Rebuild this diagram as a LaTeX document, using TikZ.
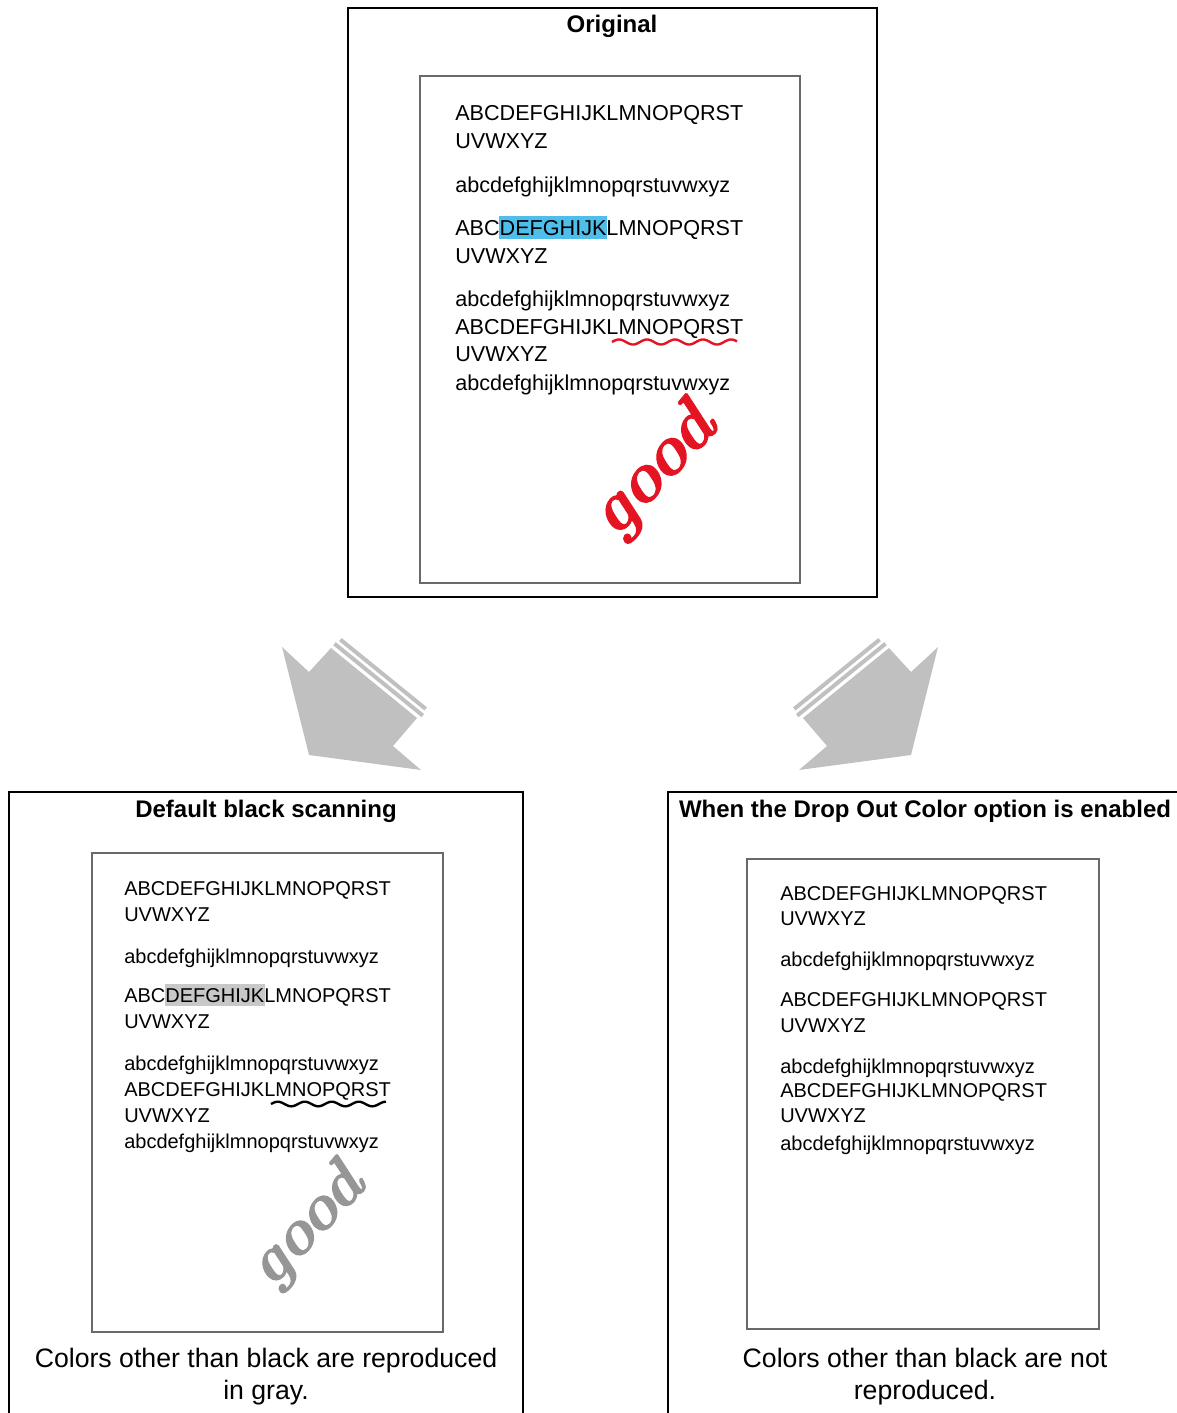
\documentclass[tikz,border=0pt]{standalone}
\usepackage{fontspec}
\setmainfont{Liberation Sans}
\newfontfamily\goodfont{lmroman10-bolditalic.otf}[FakeBold=1.6]
\definecolor{hlblue}{RGB}{80,190,235}
\definecolor{hlgray}{RGB}{200,200,200}
\definecolor{arrowgray}{RGB}{192,192,192}
\definecolor{goodred}{RGB}{228,20,35}
\definecolor{goodgray}{RGB}{150,150,150}
\definecolor{pagegray}{RGB}{105,105,105}
\begin{document}
\begin{tikzpicture}[x=0.75pt,y=-0.75pt,
  frame/.style={line width=1.5pt, draw=black},
  page/.style={line width=1.2pt, draw=pagegray},
  title/.style={anchor=base, inner sep=0pt, font=\fontsize{18}{21}\selectfont\bfseries},
  big/.style={anchor=base west, inner sep=0pt, font=\fontsize{16.2}{19}\selectfont},
  small/.style={anchor=base west, inner sep=0pt, font=\fontsize{15}{18}\selectfont},
  caption/.style={anchor=base, inner sep=0pt, font=\fontsize{20}{24}\selectfont},
  arrowbody/.style={fill=arrowgray, draw=none},
  stripe/.style={draw=arrowgray, line width=3pt},
  wave/.style={line width=1.8pt},
  goodword/.style={inner sep=0pt, font=\goodfont\fontsize{#1}{#1}\selectfont},
]
\useasboundingbox (0,0) rectangle (1177,1413);

% ---------- Original ----------
\draw[frame] (348,8) rectangle (877,597);
\node[title] (t1) at (612,33) {Original};
\draw[page] (420,76) rectangle (800,583);
\fill[hlblue] (499,216) rectangle (607,239);
\node[big] (a1) at (455,120) {ABCDEFGHIJKLMNOPQRST};
\node[big] (a2) at (455,148) {UVWXYZ};
\node[big] (a3) at (455,192) {abcdefghijklmnopqrstuvwxyz};
\node[big] (a4) at (455,235) {ABCDEFGHIJKLMNOPQRST};
\node[big] (a5) at (455,263) {UVWXYZ};
\node[big] (a6) at (455,306) {abcdefghijklmnopqrstuvwxyz};
\node[big] (a7) at (455,334) {ABCDEFGHIJKLMNOPQRST};
\node[big] (a8) at (455,361) {UVWXYZ};
\node[big] (a9) at (455,390) {abcdefghijklmnopqrstuvwxyz};
\draw[wave, goodred] plot[domain=0:125, samples=120, smooth] ({612+\x},{342-2.5*sin(\x/28*360)});
\node[goodword=52, text=goodred, rotate=47] (g1) at (655,472) {good};

% ---------- arrows ----------
\begin{scope}
  \fill[arrowbody] (282,647) -- (309,672) -- (331,648) -- (417,718) -- (393,746) -- (421,770) -- (309,755) -- cycle;
  \draw[stripe] (334.5,643.7) -- (422.8,715.6);
  \draw[stripe] (340.4,639.6) -- (425.7,708.9);
\end{scope}
\begin{scope}[shift={(1220,0)}, xscale=-1]
  \fill[arrowbody] (282,647) -- (309,672) -- (331,648) -- (417,718) -- (393,746) -- (421,770) -- (309,755) -- cycle;
  \draw[stripe] (334.5,643.7) -- (422.8,715.6);
  \draw[stripe] (340.4,639.6) -- (425.7,708.9);
\end{scope}

% ---------- Default black scanning ----------
\draw[frame] (9,1413) -- (9,792) -- (523,792) -- (523,1413);
\node[title] (t2) at (266,817) {Default black scanning};
\draw[page] (92,853) rectangle (443,1332);
\fill[hlgray] (165,984) rectangle (265,1006);
\node[small] (b1) at (124,895) {ABCDEFGHIJKLMNOPQRST};
\node[small] (b2) at (124,921) {UVWXYZ};
\node[small] (b3) at (124,963) {abcdefghijklmnopqrstuvwxyz};
\node[small] (b4) at (124,1002) {ABCDEFGHIJKLMNOPQRST};
\node[small] (b5) at (124,1028) {UVWXYZ};
\node[small] (b6) at (124,1070) {abcdefghijklmnopqrstuvwxyz};
\node[small] (b7) at (124,1096) {ABCDEFGHIJKLMNOPQRST};
\node[small] (b8) at (124,1122) {UVWXYZ};
\node[small] (b9) at (124,1148) {abcdefghijklmnopqrstuvwxyz};
\draw[wave, black] plot[domain=0:115, samples=120, smooth] ({271+\x},{1104-2.3*sin(\x/27*360)});
\node[goodword=48, text=goodgray, rotate=47] (g2) at (308,1227) {good};
\node[caption] (c1) at (266,1367) {Colors other than black are reproduced};
\node[caption] (c2) at (266,1399) {in gray.};

% ---------- Drop Out Color ----------
\draw[frame] (668,1413) -- (668,792) -- (1177,792);
\node[title] (t3) at (925,817) {When the Drop Out Color option is enabled};
\draw[page] (747,859) rectangle (1099,1329);
\node[small] (r1) at (780,900) {ABCDEFGHIJKLMNOPQRST};
\node[small] (r2) at (780,925) {UVWXYZ};
\node[small] (r3) at (780,966) {abcdefghijklmnopqrstuvwxyz};
\node[small] (r4) at (780,1006) {ABCDEFGHIJKLMNOPQRST};
\node[small] (r5) at (780,1032) {UVWXYZ};
\node[small] (r6) at (780,1073) {abcdefghijklmnopqrstuvwxyz};
\node[small] (r7) at (780,1097) {ABCDEFGHIJKLMNOPQRST};
\node[small] (r8) at (780,1122) {UVWXYZ};
\node[small] (r9) at (780,1150) {abcdefghijklmnopqrstuvwxyz};
\node[caption] (c3) at (925,1367) {Colors other than black are not};
\node[caption] (c4) at (925,1399) {reproduced.};
\end{tikzpicture}
\end{document}
